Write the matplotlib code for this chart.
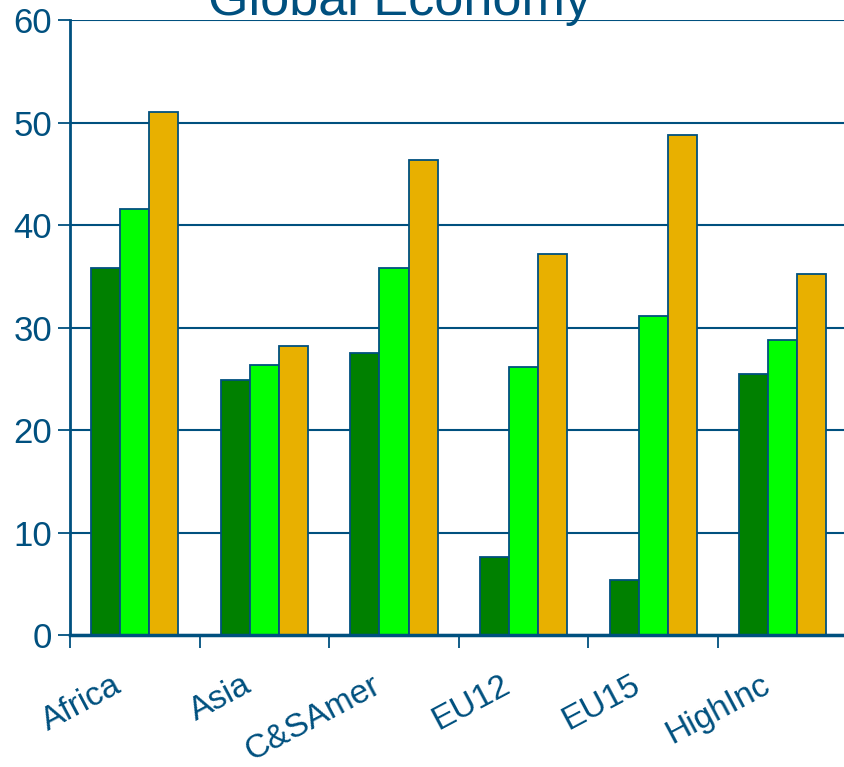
import matplotlib.pyplot as plt
import matplotlib.transforms as mtransforms
import numpy as np

plt.rcParams['font.family'] = ['Liberation Sans', 'DejaVu Sans']

regions = ['Africa', 'Asia', 'C&SAmer', 'EU12', 'EU15', 'HighInc']
series_1 = [35.8, 24.9, 27.5, 7.6, 5.4, 25.5]
series_2 = [41.6, 26.3, 35.8, 26.1, 31.1, 28.8]
series_3 = [51.0, 28.2, 46.3, 37.2, 48.8, 35.2]

navy = '#00507F'
colors = ['#008000', '#00FF00', '#E8B000']

fig = plt.figure(figsize=(8.45, 7.67), dpi=100)
ax = fig.add_axes([70 / 845, 132 / 767, 777.6 / 845, 615 / 767])

centers = np.arange(len(regions)) + 0.5
w = 0.224
for k, (vals, c) in enumerate(zip([series_1, series_2, series_3], colors)):
    ax.bar(centers + (k - 1) * w, vals, width=w, color=c,
           edgecolor=navy, linewidth=1.3, zorder=3)

ax.set_xlim(0, 6)
ax.set_ylim(0, 60)
ax.set_yticks(range(0, 61, 10))
ax.yaxis.grid(True, color=navy, linewidth=1.5, zorder=0)
ax.set_axisbelow(True)

for s in ['top', 'right']:
    ax.spines[s].set_visible(False)
ax.spines['left'].set_color(navy)
ax.spines['left'].set_linewidth(2)
ax.spines['bottom'].set_color(navy)
ax.spines['bottom'].set_linewidth(2.5)
ax.spines['left'].set_zorder(4)
ax.spines['bottom'].set_zorder(4)

ax.tick_params(axis='y', direction='out', length=9, width=1.3, color=navy,
               labelcolor=navy, labelsize=25, pad=4)

# boundary ticks without labels, region names under the group centers
ax.set_xticks(np.arange(0, 6.01, 1))
ax.set_xticklabels([])
ax.tick_params(axis='x', which='major', direction='out', length=9,
               width=1.3, color=navy)
ax.set_xticks(centers, minor=True)
ax.set_xticklabels(regions, minor=True, rotation=28, ha='right', va='top')
ax.tick_params(axis='x', which='minor', length=0, labelsize=24,
               labelcolor=navy, pad=25)
shift = mtransforms.ScaledTranslation(-8 / 100, 0, fig.dpi_scale_trans)
for lab in ax.get_xticklabels(minor=True):
    lab.set_transform(lab.get_transform() + shift)

fig.text(400 / 845, 1 - 15 / 767, 'Global Economy', ha='center',
         va='baseline', fontsize=37.5, color=navy)

fig.savefig('out.png', dpi=100)
